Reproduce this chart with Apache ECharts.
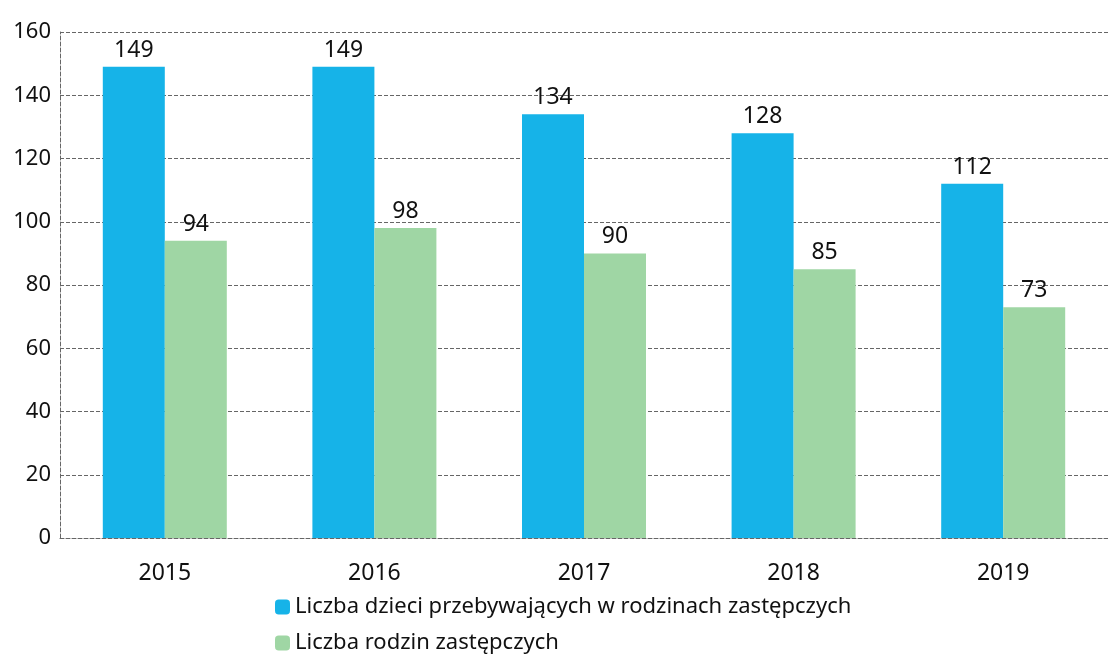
<!DOCTYPE html>
<html><head><meta charset="utf-8">
<script src="https://cdn.jsdelivr.net/npm/echarts@6/dist/echarts.min.js"></script>
<style>html,body{margin:0;padding:0;background:#fff}#c{width:1108px;height:658px}</style>
</head><body><div id="c"></div>
<script>
const categories = ['2015','2016','2017','2018','2019'];
const dzieci = [149,149,134,128,112];
const rodziny = [94,98,90,85,73];
const seriesNames = ['Liczba dzieci przebywających w rodzinach zastępczych','Liczba rodzin zastępczych'];
const FONT = 'Noto Sans';
const chart = echarts.init(document.getElementById('c'));
const lbl = {show:true, position:'top', color:'#111', fontSize:23, fontFamily:FONT, distance:5};
chart.setOption({
  animation:false,
  textStyle:{fontFamily:FONT},
  grid:{left:60, top:32, right:0, bottom:120, containLabel:false},
  legend:{orient:'vertical', left:275, top:596, bottom:0, padding:0, itemWidth:15, itemHeight:15, itemGap:14,
    textStyle:{fontSize:22, color:'#111', fontFamily:FONT},
    data:seriesNames},
  xAxis:{type:'category', data:categories,
    axisLine:{show:true, lineStyle:{color:'#666', type:'dashed'}},
    axisTick:{show:false},
    axisLabel:{fontSize:23, color:'#111', margin:24, fontFamily:FONT}},
  yAxis:{type:'value', min:0, max:160, interval:20,
    axisLine:{show:true, lineStyle:{color:'#666', type:'dashed'}},
    axisTick:{show:false},
    splitLine:{lineStyle:{color:'#666', type:'dashed', width:1}},
    axisLabel:{fontSize:22, color:'#111', margin:9, fontFamily:FONT}},
  series:[
    {name:seriesNames[0], type:'bar', data:dzieci, barWidth:62, barGap:'0%', itemStyle:{color:'#16b3e8'}, label:lbl},
    {name:seriesNames[1], type:'bar', data:rodziny, barWidth:62, barGap:'0%', itemStyle:{color:'#9fd6a4'}, label:lbl}
  ]
});
</script></body></html>
